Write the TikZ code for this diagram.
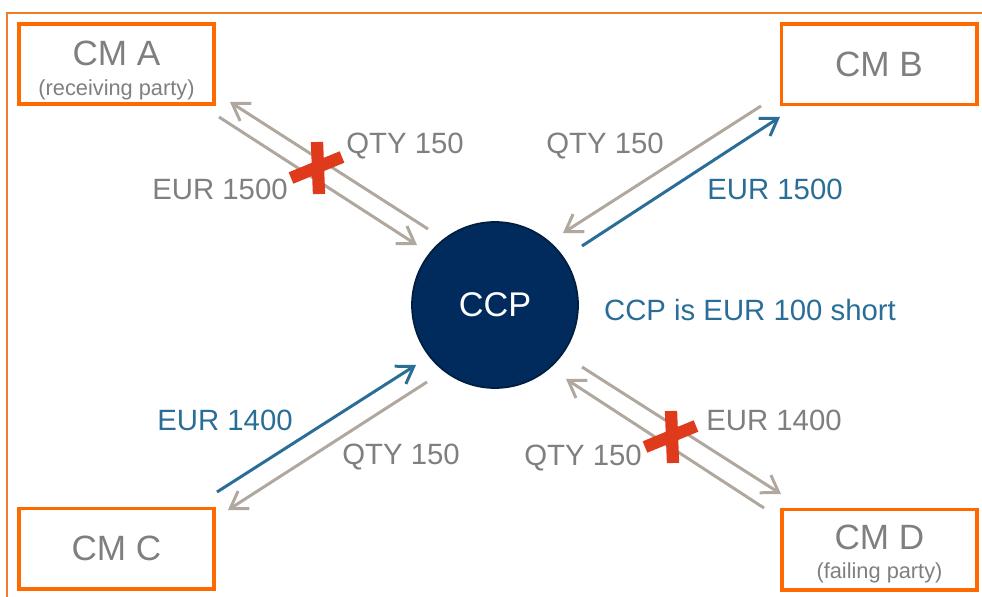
\documentclass[tikz,border=0pt]{standalone}
\usepackage{fontspec}
\setmainfont{Liberation Sans}
\usetikzlibrary{arrows.meta}
\definecolor{boxorange}{HTML}{FF6A00}
\definecolor{frameorange}{HTML}{F07D2E}
\definecolor{labelgray}{HTML}{7F7F7F}
\definecolor{flowgray}{HTML}{B0A89F}
\definecolor{cashblue}{HTML}{2A6E98}
\definecolor{ccpnavy}{HTML}{002B5C}
\definecolor{failred}{HTML}{E03A1C}
\begin{document}
\begin{tikzpicture}[x=0.02cm,y=-0.02cm,->,>={Straight Barb[length=3.2mm,width=4.2mm]},line width=1.7pt]
\tikzstyle{member}=[draw=boxorange,line width=2pt,minimum width=3.91cm,minimum height=1.61cm,inner sep=0pt,
  text=labelgray,align=center,font=\fontsize{20}{17}\selectfont]
\tikzstyle{qty}=[draw=flowgray]
\tikzstyle{cash}=[draw=cashblue]
\tikzstyle{lbl}=[text=labelgray,font=\fontsize{16.7}{18}\selectfont]
\tikzstyle{fail}=[-,draw=failred,line width=7pt]
\useasboundingbox (0,0) rectangle (982,597);
\draw[-,frameorange,line width=1.1pt] (7,597) -- (7,13) -- (982,13);
% clearing members and the CCP
\node[member] (CMA) at (116.5,64) {\rule{0pt}{21pt}CM A\\{\fontsize{12.4}{14}\selectfont (receiving party)}};
\node[member] (CMB) at (879,64.5) {CM B};
\node[member] (CMC) at (116.5,548.5) {CM C};
\node[member] (CMD) at (879.5,549.5) {\rule{0pt}{19pt}CM D\\{\fontsize{12.4}{14}\selectfont (failing party)}};
\node[circle,fill=ccpnavy,draw=ccpnavy!70!black,line width=1pt,minimum size=3.32cm,text=white,
  font=\fontsize{19.5}{20}\selectfont] (CCP) at (495,305) {CCP};
\node[text=cashblue,font=\fontsize{16.7}{18}\selectfont] (short) at (750,310) {CCP is EUR 100 short};
% flow ends
\coordinate (qA1) at (428,229); \coordinate (qA2) at (230,102);
\coordinate (eA1) at (219,117); \coordinate (eA2) at (417,245);
\coordinate (qB1) at (761,106); \coordinate (qB2) at (563,233);
\coordinate (eB1) at (582,246); \coordinate (eB2) at (780,117);
\coordinate (eC1) at (217,492); \coordinate (eC2) at (416,365);
\coordinate (qC1) at (427,382); \coordinate (qC2) at (228,510);
\coordinate (eD1) at (582,367); \coordinate (eD2) at (781,494);
\coordinate (qD1) at (764,508); \coordinate (qD2) at (566,379);
\coordinate (XA) at (317,167);
\coordinate (XD) at (671,436);
\path (qA1) edge[qty] (qA2)
      (eA1) edge[qty] (eA2)
      (qB1) edge[qty] (qB2)
      (eB1) edge[cash] (eB2)
      (eC1) edge[cash] (eC2)
      (qC1) edge[qty] (qC2)
      (eD1) edge[qty] (eD2)
      (qD1) edge[qty] (qD2);
% failed legs
\foreach \x in {XA,XD}{
  \draw[fail] ([shift={(0,-25)}]\x) -- ([shift={(2,27)}]\x);
  \draw[fail] ([shift={(-26,11)}]\x) -- ([shift={(25,-10)}]\x);
}
\node[lbl] (qtyA) at (405,146) {QTY 150};
\node[lbl] (eurA) at (220,189) {EUR 1500};
\node[lbl] (qtyB) at (605,146) {QTY 150};
\node[lbl,text=cashblue] (eurB) at (775,189) {EUR 1500};
\node[lbl,text=cashblue] (eurC) at (225,420) {EUR 1400};
\node[lbl] (qtyC) at (401,457) {QTY 150};
\node[lbl] (eurD) at (774,420) {EUR 1400};
\node[lbl] (qtyD) at (583,458) {QTY 150};
\end{tikzpicture}
\end{document}
